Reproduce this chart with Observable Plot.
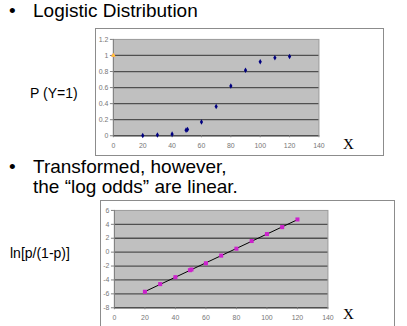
<!DOCTYPE html>
<html>
<head>
<meta charset="utf-8">
<script src="https://cdn.jsdelivr.net/npm/d3@7"></script>
<script src="https://cdn.jsdelivr.net/npm/@observablehq/plot@0.6"></script>
<style>
  html, body { margin:0; padding:0; background:#fff; }
  body { width:407px; height:326px; position:relative; overflow:hidden; font-family:"Liberation Sans", Arial, sans-serif; }
  .t { position:absolute; line-height:1; white-space:nowrap; color:#000; }
  .box { position:absolute; border:1px solid #8c8c8c; box-sizing:border-box; background:#fff; }
  .box svg { position:absolute; left:-1px; top:-1px; }
  .xl { position:absolute; font-family:"Liberation Serif", "Times New Roman", serif; font-size:15px; line-height:1; }
</style>
</head>
<body>
<div class="t" style="left:9px;top:1px;font-size:19px;">•</div>
<div class="t" style="left:33px;top:1px;font-size:19px;">Logistic Distribution</div>
<div class="t" style="left:30px;top:86px;font-size:14px;">P (Y=1)</div>
<div class="t" style="left:9px;top:157px;font-size:19px;">•</div>
<div class="t" style="left:33px;top:157px;font-size:19px;">Transformed, however,</div>
<div class="t" style="left:33px;top:177px;font-size:19px;">the “log odds” are linear.</div>
<div class="t" style="left:10px;top:246px;font-size:14px;">ln[p/(1-p)]</div>

<div id="top" class="box" style="left:95px;top:28px;width:289px;height:128px;"></div>
<div id="bot" class="box" style="left:100px;top:200px;width:295px;height:140px;"></div>
<div class="xl" style="left:343px;top:137px;">X</div>
<div class="xl" style="left:343px;top:307px;">X</div>

<script>
// ---- data ----
const xTicks = [0, 20, 40, 60, 80, 100, 120, 140];
const pTicks = [0, 0.2, 0.4, 0.6, 0.8, 1, 1.2];
const logitTicks = [-8, -6, -4, -2, 0, 2, 4, 6];

const xValues = [20, 30, 40, 49.5, 50.5, 60, 70, 80, 90, 100, 110, 120];
const pValues = [0.004, 0.01, 0.02, 0.07, 0.077, 0.172, 0.365, 0.619, 0.816, 0.922, 0.971, 0.988];
const logitValues = [-5.7, -4.6, -3.6, -2.6, -2.5, -1.6, -0.5, 0.5, 1.6, 2.6, 3.6, 4.7];

const extraX = [0];
const extraP = [1];

const topData = xValues.map((x, i) => ({x, y: pValues[i]}));
const extraData = extraX.map((x, i) => ({x, y: extraP[i]}));
const botData = xValues.map((x, i) => ({x, y: logitValues[i]}));

const plotBg = "#c0c0c0";
const gridColor = "#505050";
const tickColor = "#777";

function chart({width, height, mL, mR, mT, mB, yDomain, yTicks, marks}) {
  return Plot.plot({
    width, height,
    marginLeft: mL, marginRight: mR, marginTop: mT, marginBottom: mB,
    style: {fontFamily: "Liberation Sans, Arial, sans-serif", fontSize: "7px", color: tickColor, background: "transparent", overflow: "visible"},
    x: {domain: [0, 140], ticks: xTicks},
    y: {domain: yDomain, ticks: yTicks},
    marks: [
      Plot.frame({fill: plotBg, stroke: "#9a9a9a"}),
      Plot.ruleY(yTicks.slice(0, -1), {stroke: gridColor, strokeWidth: 1.3}),
      Plot.ruleX([0], {stroke: "#808080"}),
      Plot.axisY(yTicks, {tickSize: 3, tickPadding: 2, tickFormat: d => String(d), label: null, stroke: "#808080"}),
      Plot.axisX(xTicks, {tickSize: 2, tickPadding: 5, tickFormat: d => String(d), label: null, stroke: "#808080"}),
      ...marks
    ]
  });
}

const topChart = chart({
  width: 289, height: 128, mL: 18, mR: 64, mT: 11, mB: 20,
  yDomain: [0, 1.2], yTicks: pTicks,
  marks: [
    Plot.dot(extraData, {x: "x", y: "y", symbol: "square", r: 1.8, fill: "#ff66cc", stroke: "none"}),
    Plot.dot(extraData, {x: "x", y: "y", symbol: "triangle", r: 1.8, fill: "#ffcc33", stroke: "none"}),
    Plot.dot(topData, {x: "x", y: "y", symbol: "diamond", r: 1.7, fill: "#000080", stroke: "none"})
  ]
});
document.getElementById("top").appendChild(topChart);

const botChart = chart({
  width: 295, height: 127, mL: 14, mR: 66, mT: 10, mB: 19,
  yDomain: [-8, 6], yTicks: logitTicks,
  marks: [
    Plot.linearRegressionY(botData, {x: "x", y: "y", ci: 0, stroke: "#000", strokeWidth: 1}),
    Plot.dot(botData, {x: "x", y: "y", symbol: "square", r: 2.3, fill: "#cc22cc", stroke: "none"})
  ]
});
document.getElementById("bot").appendChild(botChart);
</script>
</body>
</html>
